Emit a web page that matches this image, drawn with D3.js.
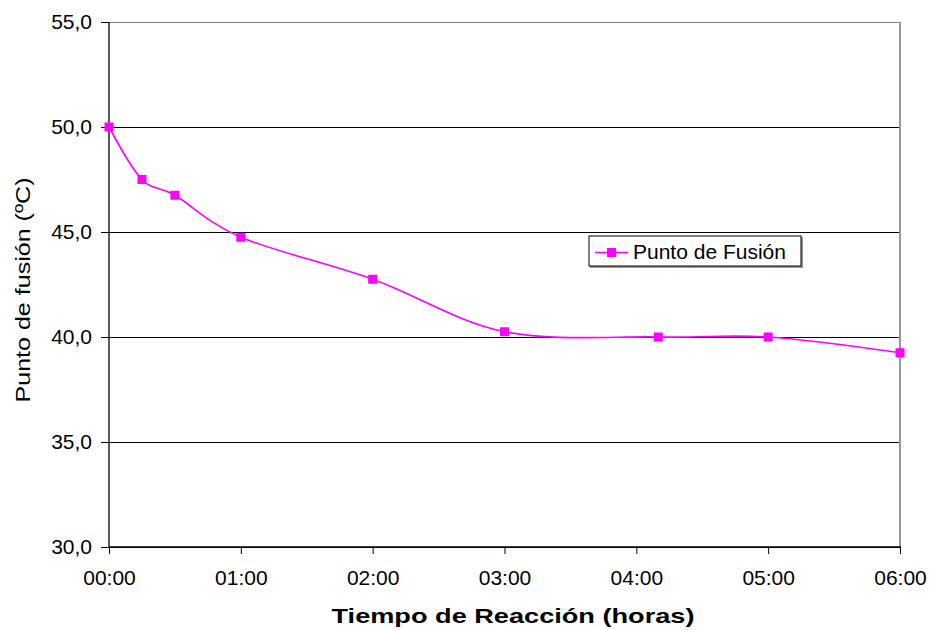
<!DOCTYPE html>
<html>
<head>
<meta charset="utf-8">
<script src="https://cdn.jsdelivr.net/npm/d3@7"></script>
<style>
  body { margin: 0; background: #fff; }
  svg { display: block; font-family: "Liberation Sans", Arial, sans-serif; }
</style>
</head>
<body>
<script>
const WIDTH = 930;
const HEIGHT = 630;
const margin = { top: 22, right: 30, bottom: 83, left: 109 };

// Data
const times  = ["00:00", "00:15", "00:30", "01:00", "02:00", "03:00", "04:10", "05:00", "06:00"];
const fusion = [50.0, 47.5, 46.75, 44.75, 42.75, 40.25, 40.0, 40.0, 39.25];
const yTicks = [30, 35, 40, 45, 50, 55];
const seriesName = "Punto de Fusión";

const parseTime = d3.timeParse("%H:%M");
const dataset = times.map((t, i) => ({ t: parseTime(t), v: fusion[i] }));

const svg = d3.select("body").append("svg")
    .attr("width", WIDTH)
    .attr("height", HEIGHT);

const x0 = margin.left, x1 = WIDTH - margin.right;
const y0 = HEIGHT - margin.bottom, y1 = margin.top;

const xScale = d3.scaleTime()
    .domain([parseTime("00:00"), parseTime("06:00")])
    .range([x0, x1]);
const yScale = d3.scaleLinear()
    .domain([30, 55])
    .range([y0, y1]);

const comma = d3.formatLocale({ decimal: ",", thousands: ".", grouping: [3], currency: ["", "€"] }).format(".1f");

// horizontal gridlines
svg.append("g")
  .selectAll("line")
  .data(yTicks)
  .enter().append("line")
    .attr("x1", x0)
    .attr("x2", x1)
    .attr("y1", d => yScale(d))
    .attr("y2", d => yScale(d))
    .attr("stroke", d => d === 55 ? "#808080" : "#000")
    .attr("stroke-width", 1)
    .attr("shape-rendering", "crispEdges");

// right border of plot area
svg.append("line")
    .attr("x1", x1).attr("x2", x1)
    .attr("y1", y1).attr("y2", y0)
    .attr("stroke", "#999")
    .attr("stroke-width", 2);

// axes
const yAxis = d3.axisLeft(yScale)
    .tickValues(yTicks)
    .tickSize(8)
    .tickPadding(9)
    .tickFormat(d => comma(d));
const gy = svg.append("g")
    .attr("transform", "translate(" + x0 + ",0)")
    .call(yAxis);

const xAxis = d3.axisBottom(xScale)
    .ticks(d3.timeHour.every(1))
    .tickSize(7)
    .tickPadding(16)
    .tickFormat(d3.timeFormat("%H:%M"));
const gx = svg.append("g")
    .attr("transform", "translate(0," + y0 + ")")
    .call(xAxis);

[gx, gy].forEach(g => {
  g.select(".domain").attr("stroke", "#000").attr("stroke-width", 1.3);
  g.selectAll(".tick line").attr("stroke", "#000");
  g.selectAll(".tick text")
    .attr("fill", "#000")
    .style("font-size", "21px")
    .style("font-family", "'Liberation Sans', Arial, sans-serif");
});
gy.select(".domain").attr("d", "M0," + y0 + "V" + y1);
gx.select(".domain").attr("d", "M" + x0 + ",0H" + (x1 + 1));

// series line (smoothed like the original)
const line = d3.line()
    .x(d => xScale(d.t))
    .y(d => yScale(d.v))
    .curve(d3.curveCardinal.tension(0));

svg.append("path")
    .datum(dataset)
    .attr("d", line)
    .attr("fill", "none")
    .attr("stroke", "#ff00ff")
    .attr("stroke-width", 1.6);

svg.append("g")
  .selectAll("rect")
  .data(dataset)
  .enter().append("rect")
    .attr("x", d => xScale(d.t) - 4.5)
    .attr("y", d => yScale(d.v) - 4.5)
    .attr("width", 9)
    .attr("height", 9)
    .attr("fill", "#ff00ff");

// axis titles
svg.append("text")
    .attr("x", 513)
    .attr("y", 623)
    .attr("text-anchor", "middle")
    .attr("textLength", 363)
    .attr("lengthAdjust", "spacingAndGlyphs")
    .style("font-size", "21px")
    .style("font-weight", "bold")
    .text("Tiempo de Reacción (horas)");

svg.append("text")
    .attr("transform", "translate(30,290) rotate(-90)")
    .attr("text-anchor", "middle")
    .attr("textLength", 225)
    .attr("lengthAdjust", "spacingAndGlyphs")
    .style("font-size", "20px")
    .text("Punto de fusión (ºC)");

// legend
const legend = svg.append("g").attr("transform", "translate(589,236)");
legend.append("rect")
    .attr("x", 1).attr("y", 1)
    .attr("width", 213).attr("height", 31)
    .attr("fill", "#999");
legend.append("rect")
    .attr("width", 212).attr("height", 30)
    .attr("fill", "#fff")
    .attr("stroke", "#000")
    .attr("stroke-width", 1);
legend.append("line")
    .attr("x1", 6).attr("x2", 39)
    .attr("y1", 16.5).attr("y2", 16.5)
    .attr("stroke", "#ff00ff")
    .attr("stroke-width", 1.6);
legend.append("rect")
    .attr("x", 18).attr("y", 12)
    .attr("width", 9).attr("height", 9)
    .attr("fill", "#ff00ff");
legend.append("text")
    .attr("x", 44)
    .attr("y", 23)
    .style("font-size", "21px")
    .text(seriesName);
</script>
</body>
</html>
